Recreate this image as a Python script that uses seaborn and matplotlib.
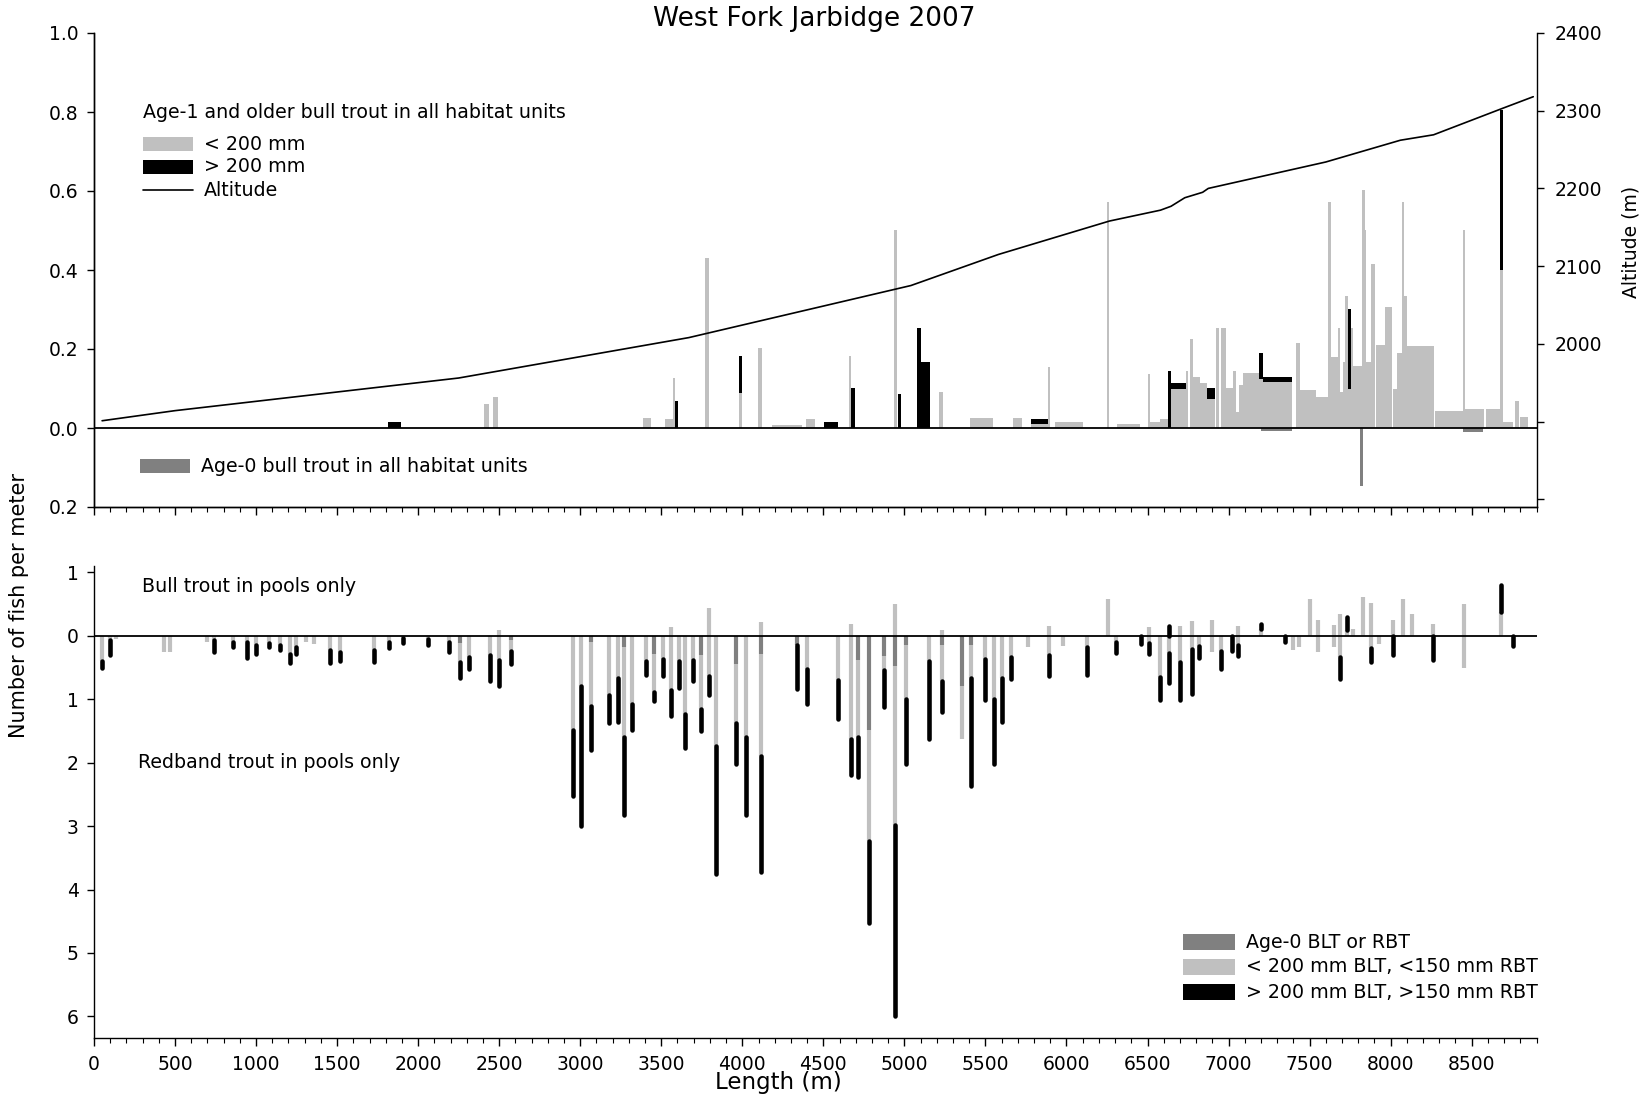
import numpy as np
import matplotlib
matplotlib.use("Agg")
import matplotlib.pyplot as plt
import seaborn as sns
from matplotlib.patches import Rectangle
from matplotlib.lines import Line2D
from matplotlib.ticker import MultipleLocator, FixedLocator, FuncFormatter, NullFormatter

# ---------------- DATA ----------------
# Altitude profile (m along stream, altitude m)
alt_x = [50, 500, 2250, 3670, 5040, 5580, 6265, 6580, 6645, 6730, 6840, 6875, 7600, 8060, 8265, 8690, 8880]
alt_m = [1901, 1914, 1956, 2008, 2075, 2115, 2158, 2172, 2177, 2188, 2195, 2200, 2234, 2262, 2269, 2303, 2318]

# Top panel: habitat units (start, length) with densities of age-1+ bull trout
unit_x = [1817, 2404, 2462, 3385, 3520, 3572, 3582, 3772, 3977, 4099, 4185, 4395, 4506, 4660, 4672,
          4938, 4961, 5078, 5100, 5216, 5407, 5673, 5784, 5883, 5932, 6247, 6309, 6500, 6517, 6576,
          6625, 6642, 6735, 6765, 6782, 6823, 6868, 6920, 6951, 6982, 7027, 7043, 7062, 7091, 7185,
          7210, 7414, 7438, 7537, 7613, 7630, 7675, 7689, 7704, 7718, 7736, 7755, 7767, 7821, 7840,
          7850, 7877, 7912, 7963, 8014, 8037, 8068, 8085, 8101, 8272, 8446, 8461, 8588, 8675, 8691,
          8769, 8800]
unit_len = [77, 31, 28, 53, 54, 10, 24, 20, 21, 20, 185, 56, 82, 12, 26,
            15, 20, 22, 58, 20, 138, 51, 99, 14, 169, 18, 144, 17, 59, 49,
            17, 93, 16, 17, 41, 45, 47, 18, 31, 45, 16, 19, 29, 94, 25,
            183, 24, 99, 76, 17, 45, 14, 15, 14, 18, 19, 12, 54, 19, 10,
            27, 26, 51, 47, 23, 31, 17, 16, 167, 174, 15, 115, 87, 16, 62,
            25, 48]
blt_lt200 = [0, 0.061, 0.079, 0.025, 0.022, 0.126, 0, 0.43, 0.089, 0.202, 0.008, 0.023, 0, 0.183, 0,
             0.502, 0, 0, 0, 0.092, 0.026, 0.026, 0.011, 0.155, 0.014, 0.573, 0.009, 0.136, 0.016, 0.022,
             0, 0.099, 0.144, 0.225, 0.128, 0.113, 0.074, 0.252, 0.252, 0.102, 0.144, 0.041, 0.109, 0.138, 0.123,
             0.117, 0.216, 0.096, 0.079, 0.573, 0.181, 0.252, 0.090, 0.168, 0.335, 0.099, 0.252, 0.157, 0.603, 0.502,
             0.168, 0.415, 0.210, 0.307, 0.100, 0.189, 0.573, 0.335, 0.208, 0.044, 0.502, 0.047, 0.047, 0.400, 0.016,
             0.068, 0.027]
blt_gt200 = [0.015, 0, 0, 0, 0, 0, 0.068, 0, 0.094, 0, 0, 0, 0.015, 0, 0.102,
             0, 0.085, 0.252, 0.168, 0, 0, 0, 0.011, 0, 0, 0, 0, 0, 0, 0,
             0.144, 0.014, 0, 0, 0, 0, 0.028, 0, 0, 0, 0, 0, 0, 0, 0.066,
             0.011, 0, 0, 0, 0, 0, 0, 0, 0, 0, 0.203, 0, 0, 0, 0,
             0, 0, 0, 0, 0, 0, 0, 0, 0, 0, 0, 0, 0, 0.404, 0,
             0, 0]
# Age-0 bull trout in all habitat units
age0_x = [7198, 7813, 8449]
age0_len = [195, 16, 121]
age0_dens = [0.007, 0.146, 0.011]

# Bottom panel: pools
pool_x = [51, 99, 136, 432, 469, 695, 739, 860, 946, 1000, 1082, 1148, 1212, 1249, 1309, 1356, 1457, 1520,
          1726, 1819, 1909, 2060, 2193, 2257, 2311, 2443, 2498, 2572, 2958, 3005, 3066, 3180, 3230, 3272,
          3320, 3406, 3458, 3508, 3558, 3611, 3647, 3696, 3747, 3795, 3837, 3964, 4021, 4117, 4336, 4402,
          4593, 4673, 4713, 4784, 4874, 4944, 5008, 5154, 5232, 5354, 5411, 5498, 5554, 5601, 5658, 5762,
          5891, 5981, 6127, 6258, 6308, 6462, 6510, 6577, 6635, 6700, 6774, 6819, 6899, 6951, 7021, 7060,
          7202, 7350, 7395, 7436, 7500, 7549, 7650, 7689, 7730, 7769, 7829, 7881, 7930, 8012, 8074, 8130,
          8261, 8451, 8679, 8753]
pool_blt_small = [0, 0, 0, 0, 0, 0, 0, 0, 0, 0, 0, 0, 0, 0, 0, 0, 0, 0,
                  0, 0, 0, 0, 0, 0, 0, 0, 0.085, 0, 0, 0, 0, 0, 0, 0,
                  0, 0, 0, 0, 0.14, 0, 0, 0, 0, 0.44, 0, 0, 0, 0.21, 0, 0,
                  0, 0.19, 0, 0, 0, 0.505, 0, 0, 0.095, 0, 0, 0, 0, 0, 0, 0,
                  0.15, 0, 0, 0.58, 0, 0, 0.14, 0, 0, 0.15, 0.23, 0, 0.25, 0, 0, 0.15,
                  0.105, 0, 0, 0, 0.58, 0.25, 0.17, 0.34, 0.095, 0.105, 0.61, 0.51, 0, 0.25, 0.58, 0.34,
                  0.18, 0.505, 0.37, 0]
pool_blt_large = [0, 0, 0, 0, 0, 0, 0, 0, 0, 0, 0, 0, 0, 0, 0, 0, 0, 0,
                  0, 0, 0, 0, 0, 0, 0, 0, 0, 0, 0, 0, 0, 0, 0, 0,
                  0, 0, 0, 0, 0, 0, 0, 0, 0, 0, 0, 0, 0, 0, 0, 0,
                  0, 0, 0, 0, 0, 0, 0, 0, 0, 0, 0, 0, 0, 0, 0, 0,
                  0, 0, 0, 0, 0, 0, 0, 0, 0.15, 0, 0, 0, 0, 0, 0, 0,
                  0.085, 0, 0, 0, 0, 0, 0, 0, 0.195, 0, 0, 0, 0, 0, 0, 0,
                  0, 0, 0.43, 0]
pool_rbt_age0 = [0, 0, 0, 0, 0, 0, 0, 0, 0, 0, 0, 0, 0, 0, 0, 0, 0, 0,
                 0, 0, 0, 0, 0, 0.115, 0, 0, 0, 0.06, 0, 0, 0.10, 0, 0, 0.17,
                 0, 0, 0.28, 0, 0, 0, 0, 0, 0.31, 0, 0, 0.45, 0, 0.28, 0.15, 0,
                 0, 0, 0.38, 1.49, 0.32, 0.48, 0.15, 0, 0.15, 0.79, 0.15, 0, 0, 0, 0, 0,
                 0, 0, 0, 0, 0, 0, 0, 0, 0, 0, 0, 0, 0, 0, 0, 0,
                 0, 0, 0, 0, 0, 0, 0, 0, 0, 0, 0, 0, 0, 0, 0, 0,
                 0, 0, 0, 0]
pool_rbt_small = [0.39, 0.07, 0.05, 0.26, 0.26, 0.105, 0.07, 0.10, 0.10, 0.14, 0.115, 0.14, 0.29, 0.17, 0.105, 0.137, 0.22, 0.26,
                  0.22, 0.105, 0.04, 0.05, 0.105, 0.305, 0.33, 0.30, 0.38, 0.18, 1.49, 0.785, 1.0, 0.93, 0.66, 1.42,
                  1.07, 0.39, 0.61, 0.36, 0.86, 0.39, 1.23, 0.38, 0.84, 0.63, 1.74, 0.92, 1.59, 1.61, 0, 0.52,
                  0.70, 1.63, 1.21, 1.75, 0.22, 2.51, 0.84, 0.39, 0.56, 0.84, 0.51, 0.36, 0.99, 0.66, 0.33, 0.17,
                  0.31, 0.16, 0.18, 0, 0.10, 0, 0.12, 0.65, 0.27, 0.42, 0.21, 0.16, 0.26, 0.24, 0, 0.14,
                  0, 0, 0.22, 0.18, 0, 0.26, 0.18, 0.33, 0, 0, 0, 0.19, 0.13, 0, 0, 0,
                  0, 0.51, 0, 0]
pool_rbt_large = [0.12, 0.23, 0, 0, 0, 0, 0.19, 0.08, 0.25, 0.15, 0.065, 0.09, 0.14, 0.11, 0, 0, 0.21, 0.13,
                  0.19, 0.095, 0.075, 0.10, 0.155, 0.25, 0.19, 0.41, 0.41, 0.20, 1.03, 2.215, 0.70, 0.44, 0.70, 1.23,
                  0.42, 0.23, 0.14, 0.28, 0.41, 0.43, 0.54, 0.33, 0.35, 0.31, 2.02, 0.65, 1.23, 1.83, 0.69, 0.56,
                  0.61, 0.57, 0.63, 1.28, 0.58, 3.01, 1.03, 1.23, 0.49, 0, 1.70, 0.66, 1.03, 0.70, 0.35, 0,
                  0.32, 0, 0.44, 0, 0.17, 0.13, 0.16, 0.37, 0.47, 0.60, 0.70, 0.19, 0, 0.29, 0.24, 0.18,
                  0, 0.10, 0, 0, 0, 0, 0, 0.35, 0, 0, 0, 0.225, 0, 0.30, 0, 0,
                  0.38, 0, 0, 0.16]

# ---------------- STYLE ----------------
sns.set_theme(style="ticks")
plt.rcParams['font.family'] = ['DejaVu Sans']
plt.rcParams.update({
    'axes.linewidth': 1.0,
    'xtick.major.width': 1.0, 'ytick.major.width': 1.0,
    'xtick.minor.width': 0.8, 'ytick.minor.width': 0.8,
    'xtick.major.size': 6, 'ytick.major.size': 5,
    'xtick.minor.size': 3.5,
    'xtick.labelsize': 13.5, 'ytick.labelsize': 13.5,
    'xtick.color': 'black', 'ytick.color': 'black',
    'axes.edgecolor': 'black', 'text.color': 'black',
})

C_SMALL = '#C0C0C0'
C_LARGE = '#000000'
C_AGE0 = '#808080'

W, H = 1652, 1098
fig = plt.figure(figsize=(W / 100, H / 100), dpi=100)

def fx(x):
    return x / W

def fy(y):
    return 1 - y / H

L, R = 94, 1536.5
ax = fig.add_axes([fx(L), fy(507), fx(R - L), (507 - 33) / H])
axb = fig.add_axes([fx(L), fy(1038), fx(R - L), (1038 - 566) / H])

n = len(unit_x)
assert len(unit_len) == n and len(blt_lt200) == n and len(blt_gt200) == n

# ---- top panel bars ----
ax.bar(unit_x, blt_lt200, width=unit_len, align='edge', color=C_SMALL, linewidth=0, zorder=2)
ax.bar(unit_x, blt_gt200, width=unit_len, bottom=blt_lt200, align='edge', color=C_LARGE, linewidth=0, zorder=3)
ax.bar(age0_x, [-v for v in age0_dens], width=age0_len, align='edge', color=C_AGE0, linewidth=0, zorder=2)
ax.axhline(0, color='black', lw=1.3, zorder=4)

ax.set_xlim(0, 8900)
ax.set_ylim(-0.2, 1.0)
ax.yaxis.set_major_locator(FixedLocator([-0.2, 0, 0.2, 0.4, 0.6, 0.8, 1.0]))
ax.yaxis.set_major_formatter(FuncFormatter(lambda v, p: f"{abs(v):.1f}"))
ax.xaxis.set_major_locator(MultipleLocator(500))
ax.xaxis.set_minor_locator(MultipleLocator(100))
ax.xaxis.set_major_formatter(NullFormatter())
ax.spines['top'].set_visible(False)
ax.spines['right'].set_visible(False)
ax.tick_params(axis='y', which='major', pad=6)
ax.set_facecolor('none')

# altitude on a twin axis
ax2 = ax.twinx()
sns.lineplot(x=alt_x, y=alt_m, ax=ax2, color='black', lw=1.2, zorder=5)
ax2.set_ylim(1790, 2400)
ax2.yaxis.set_major_locator(FixedLocator([1800, 1900, 2000, 2100, 2200, 2300, 2400]))
ax2.yaxis.set_major_formatter(FuncFormatter(lambda v, p: f"{int(v)}" if v >= 2000 else ""))
ax2.spines['top'].set_visible(False)
ax2.set_ylabel("")
ax2.tick_params(axis='y', which='major', pad=8)

# ---- bottom panel ----
m = len(pool_x)
assert all(len(a) == m for a in [pool_blt_small, pool_blt_large, pool_rbt_age0, pool_rbt_small, pool_rbt_large])
px = np.array(pool_x, float)
bs = np.array(pool_blt_small)
bl = np.array(pool_blt_large)
ra = np.array(pool_rbt_age0)
rs = np.array(pool_rbt_small)
rl = np.array(pool_rbt_large)

LW_G = 3.0
LW_K = 3.3

def vseg(x, y0, y1, color, lw, cap):
    mask = np.abs(y1 - y0) > 1e-9
    if mask.any():
        lc = axb.vlines(x[mask], y0[mask], y1[mask], colors=color, linewidth=lw, zorder=3 if color != C_LARGE else 4)
        lc.set_capstyle(cap)

# bull trout upward
vseg(px, np.zeros(m), bs, C_SMALL, LW_G, 'butt')
vseg(px, bs, bs + bl, C_LARGE, LW_K, 'round')
# redband trout downward
vseg(px, np.zeros(m), -ra, C_AGE0, LW_G, 'butt')
vseg(px, -ra, -(ra + rs), C_SMALL, LW_G, 'butt')
vseg(px, -(ra + rs), -(ra + rs + rl), C_LARGE, LW_K, 'round')
axb.axhline(0, color='black', lw=1.3, zorder=5)

axb.set_xlim(0, 8900)
axb.set_ylim(-6.34, 1.10)
axb.yaxis.set_major_locator(FixedLocator([-6, -5, -4, -3, -2, -1, 0, 1]))
axb.yaxis.set_major_formatter(FuncFormatter(lambda v, p: f"{abs(int(round(v)))}"))
axb.xaxis.set_major_locator(MultipleLocator(500))
axb.xaxis.set_minor_locator(MultipleLocator(100))
axb.spines['top'].set_visible(False)
axb.spines['right'].set_visible(False)
axb.tick_params(axis='y', which='major', pad=6)
axb.tick_params(axis='x', which='major', pad=6)

# ---- texts & legends (figure pixel coordinates) ----
fig.text(fx(814), fy(19), "West Fork Jarbidge 2007", ha='center', va='center', fontsize=19)
fig.text(fx(19), fy(606), "Number of fish per meter", rotation=90, ha='center', va='center', fontsize=15)
fig.text(fx(1631), fy(242), "Altitude (m)", rotation=90, ha='center', va='center', fontsize=13.5)
fig.text(fx(778), fy(1083), "Length (m)", ha='center', va='center', fontsize=16.5)

LEG_FS = 13.7

def rect(x, y, w, h, color):
    fig.patches.append(Rectangle((fx(x), fy(y + h)), w / W, h / H, transform=fig.transFigure,
                                 facecolor=color, edgecolor='none', figure=fig))

fig.text(fx(143), fy(113), "Age-1 and older bull trout in all habitat units", ha='left', va='center', fontsize=LEG_FS)
rect(143, 137, 50, 14, C_SMALL)
fig.text(fx(204), fy(144), "< 200 mm", ha='left', va='center', fontsize=LEG_FS)
rect(143, 160, 50, 14, C_LARGE)
fig.text(fx(204), fy(167), "> 200 mm", ha='left', va='center', fontsize=LEG_FS)
fig.lines.append(Line2D([fx(143), fx(193)], [fy(190), fy(190)], transform=fig.transFigure, color='black', lw=1.2))
fig.text(fx(204), fy(190), "Altitude", ha='left', va='center', fontsize=LEG_FS)

rect(140, 459, 50, 14, C_AGE0)
fig.text(fx(201), fy(466), "Age-0 bull trout in all habitat units", ha='left', va='center', fontsize=LEG_FS)

fig.text(fx(142), fy(587), "Bull trout in pools only", ha='left', va='center', fontsize=LEG_FS)
fig.text(fx(138), fy(763), "Redband trout in pools only", ha='left', va='center', fontsize=LEG_FS)

rect(1183, 934, 52, 16, C_AGE0)
fig.text(fx(1246), fy(942), "Age-0 BLT or RBT", ha='left', va='center', fontsize=LEG_FS)
rect(1183, 959, 52, 16, C_SMALL)
fig.text(fx(1246), fy(967), "< 200 mm BLT, <150 mm RBT", ha='left', va='center', fontsize=LEG_FS)
rect(1183, 984, 52, 16, C_LARGE)
fig.text(fx(1246), fy(992), "> 200 mm BLT, >150 mm RBT", ha='left', va='center', fontsize=LEG_FS)

fig.savefig("out.png", dpi=100)
